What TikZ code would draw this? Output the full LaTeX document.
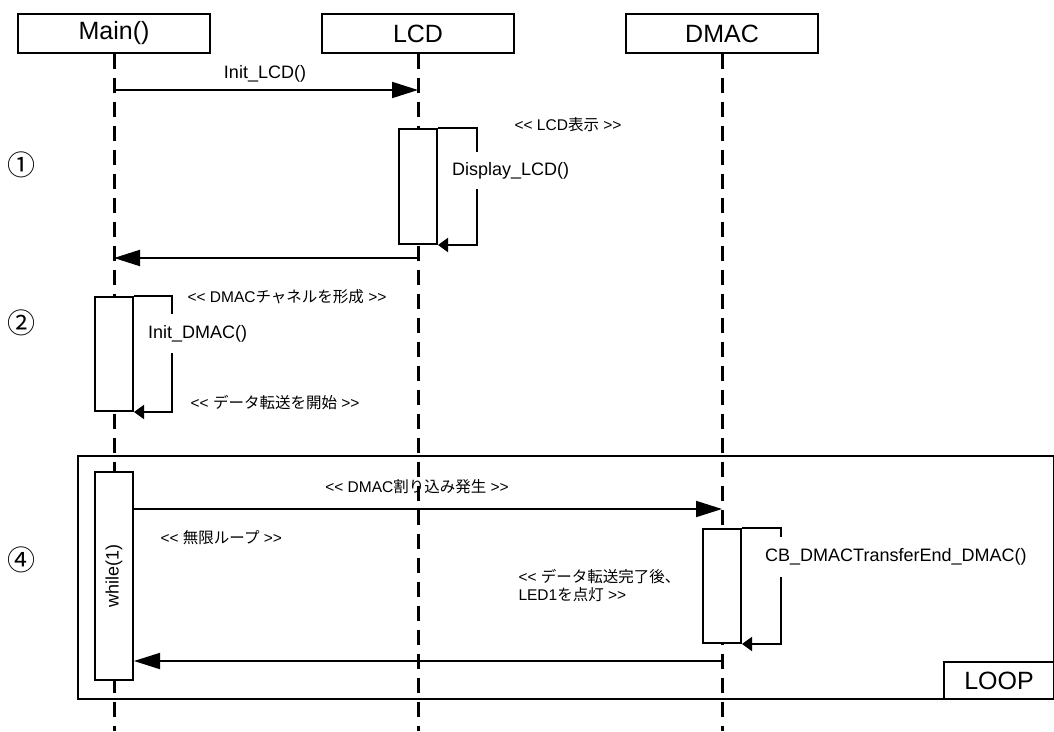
\documentclass[tikz,border=0pt]{standalone}
\usepackage{fontspec}
\setmainfont{Liberation Sans}
\newfontfamily\jp{Noto Sans CJK JP}
\usetikzlibrary{arrows.meta,positioning}

\newcommand\cmtopen{<\kern0pt<}
\newcommand\cmtclose{>\kern0pt>}

\tikzset{
  head/.style={draw, line width=1.7pt, minimum width=192pt, minimum height=39pt, inner sep=0pt, font=\fontsize{25}{30}\selectfont},
  lifeline/.style={line width=3pt, dash pattern=on 15pt off 9pt},
  actbox/.style={draw, fill=white, line width=2pt, minimum width=38pt, inner sep=0pt},
  loopframe/.style={draw, line width=2pt, inner sep=0pt},
  framelbl/.style={draw, fill=white, line width=2pt, minimum width=110pt, minimum height=37pt, inner sep=0pt, font=\fontsize{25}{30}\selectfont},
  msg/.style={line width=2pt, -{Triangle[length=26pt,width=16pt]}},
  selfmsg/.style={line width=2pt, -{Triangle[length=10pt,width=14pt]}},
  fname/.style={font=\fontsize{18}{22}\selectfont},
  selflbl/.style={fname, fill=white, anchor=west, inner xsep=0pt},
  note/.style={font=\fontsize{15.5}{18}\selectfont},
  numlbl/.style={font=\jp\fontsize{28}{30}\selectfont},
}

\begin{document}
\begin{tikzpicture}[x=1pt,y=-1pt]
\useasboundingbox (0,0) rectangle (1054,731);

% objects
\node[head] (main) at (114,33.5) {Main()};
\node[head] (lcd) at (418,33.5) {LCD};
\node[head] (dmac) at (722,33.5) {DMAC};

% loop frame
\node[loopframe, minimum width=976pt, minimum height=243pt, anchor=north west] (loopfr) at (77,455) {};
\node[framelbl, anchor=south east] (looplbl) at (loopfr.south east) {LOOP};

% lifelines
\foreach \obj in {main,lcd,dmac}
  \draw[lifeline] (\obj.south) -- (\obj.south |- 0,731);

% step numbers
\node[numlbl] (n1) at (22,165) {①};
\node[numlbl] (n2) at (22,323) {②};
\node[numlbl] (n4) at (22,560) {④};

% activations
\node[actbox, minimum height=115pt, anchor=north] (lcdact) at (lcd.south |- 0,128) {};
\node[actbox, minimum height=114pt, anchor=north] (mainact) at (main.south |- 0,296) {};
\node[actbox, minimum height=208pt, anchor=north] (whileact) at (main.south |- 0,471) {};
\node[fname, rotate=90] (whilelbl) at (whileact.center) {while(1)};
\node[actbox, minimum height=114pt, anchor=north] (dmacact) at (dmac.south |- 0,528) {};

% self calls
\draw[selfmsg] (lcdact.north east) -- ++(39,0) |- (lcdact.south east);
\node[selflbl, minimum height=37pt] (displbl) at (452,170.5) {Display\_LCD()};
\draw[selfmsg] (mainact.north east) -- ++(38,0) |- (mainact.south east);
\node[selflbl, minimum height=39pt] (idmaclbl) at (148,333.5) {Init\_DMAC()};
\draw[selfmsg] (dmacact.north east) -- ++(39,0) |- (dmacact.south east);
\node[selflbl, minimum height=40pt] (cblbl) at (765,557) {CB\_DMACTransferEnd\_DMAC()};

% messages
\draw[msg] (main.south |- 0,90) -- (lcd.south |- 0,90);
\node[fname] (initlcd) at (265,74) {Init\_LCD()};
\draw[msg] (lcd.south |- 0,258) -- (main.south |- 0,258);
\draw[msg] (whileact.east |- 0,509) -- (dmac.south |- 0,509);
\draw[msg] (dmac.south |- 0,661) -- (whileact.east |- 0,661);

% notes
\node[note] (c1) at (568,125) {\cmtopen{} LCD{\jp 表示} \cmtclose};
\node[note] (c2) at (287,297) {\cmtopen{} DMAC{\jp チャネルを形成} \cmtclose};
\node[note] (c3) at (275,403) {\cmtopen{} {\jp データ転送を開始} \cmtclose};
\node[note] (c4) at (417,487) {\cmtopen{} DMAC{\jp 割り込み発生} \cmtclose};
\node[note, anchor=west] (c5) at (157,538) {\cmtopen{} {\jp 無限ループ} \cmtclose};
\node[note, align=left, anchor=west] (c6) at (515,586) {\cmtopen{} {\jp データ転送完了後、}\\LED1{\jp を点灯} \cmtclose};
\end{tikzpicture}
\end{document}
